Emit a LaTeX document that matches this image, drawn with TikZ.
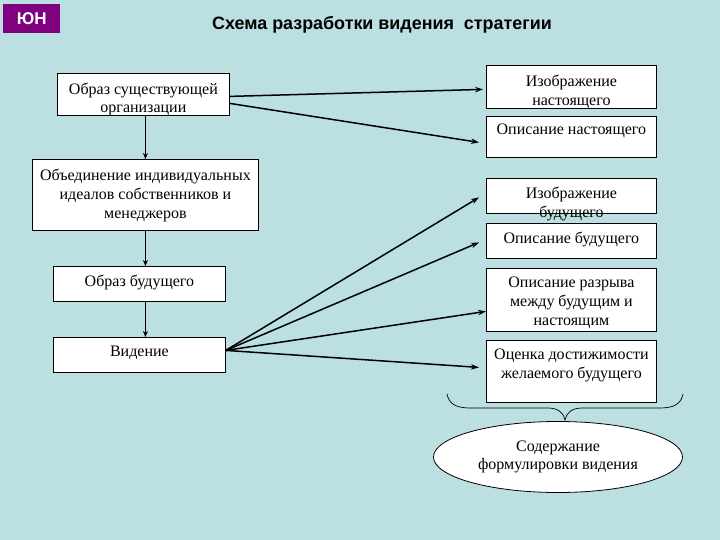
\documentclass[tikz,border=0pt]{standalone}
\usepackage{fontspec}
\setmainfont{Liberation Serif}
\newfontfamily\sansf{Liberation Sans}
\usetikzlibrary{shapes.geometric,arrows.meta,calc}
\definecolor{bgc}{RGB}{188,223,226}
\definecolor{purp}{RGB}{128,0,128}
\begin{document}
\begin{tikzpicture}[x=1pt,y=-1pt,
  box/.style={draw, fill=white, line width=0.8pt, inner sep=0pt, anchor=north west},
  txt/.style={font=\fontsize{16}{18.8}\selectfont, align=center, inner sep=0pt, anchor=north},
  arr/.style={-{Stealth[length=8pt,width=5.5pt]}, line width=1.5pt},
  varr/.style={-{Stealth[length=6pt,width=5pt]}, line width=0.8pt}]
\fill[bgc] (0,0) rectangle (720,540);
\useasboundingbox (0,0) rectangle (720,540);

% logo and title
\node[fill=purp, minimum width=57pt, minimum height=29pt, inner sep=0pt, anchor=north west,
  text=white, font=\sansf\bfseries\fontsize{17}{19}\selectfont] (logo) at (3,4) {ЮН};
\node[font=\sansf\bfseries\fontsize{17.9}{20}\selectfont, inner sep=0pt] (title) at (382,25)
  {Схема разработки видения \ стратегии};

% left boxes
\node[box, minimum width=172pt, minimum height=42pt] (b1) at (57,73) {};
\node[box, minimum width=226pt, minimum height=71pt] (b2) at (32,159) {};
\node[box, minimum width=172pt, minimum height=35pt] (b3) at (53,266) {};
\node[box, minimum width=172pt, minimum height=35pt] (b4) at (53,337) {};

% right boxes
\node[box, minimum width=170pt, minimum height=43pt] (ra) at (486,65) {};
\node[box, minimum width=170pt, minimum height=41pt] (rb) at (486,116) {};
\node[box, minimum width=170pt, minimum height=35pt] (rc) at (486,178) {};
\node[box, minimum width=170pt, minimum height=35pt] (rd) at (486,223) {};
\node[box, minimum width=170pt, minimum height=63pt] (re) at (486,268) {};
\node[box, minimum width=170pt, minimum height=62pt] (rf) at (486,340) {};

% texts
\node[txt] (t1) at ([yshift=-9.5pt]b1.north) {Образ существующей\\организации};
\node[txt] (t2) at ([yshift=-10pt]b2.north) {Объединение индивидуальных\\идеалов собственников и\\менеджеров};
\node[txt] (t3) at ([yshift=-9pt]b3.north) {Образ будущего};
\node[txt] (t4) at ([yshift=-8.5pt]b4.north) {Видение};
\node[txt] (ta) at ([yshift=-10pt]ra.north) {Изображение\\настоящего};
\node[txt] (tb) at ([yshift=-7.5pt]rb.north) {Описание настоящего};
\node[txt] (tc) at ([yshift=-9pt]rc.north) {Изображение\\будущего};
\node[txt] (td) at ([yshift=-8.5pt]rd.north) {Описание будущего};
\node[txt] (te) at ([yshift=-9pt]re.north) {Описание разрыва\\между будущим и\\настоящим};
\node[txt] (tf) at ([yshift=-8.5pt]rf.north) {Оценка достижимости\\желаемого будущего};

% vertical arrows
\draw[varr] (b1.south -| b2.north) -- (b2.north);
\draw[varr] (b2.south) -- (b2.south |- b3.north);
\draw[varr] (b3.south -| b2.south) -- (b4.north -| b2.south);

% arrows from b1
\draw[arr] ([yshift=-2pt]b1.east) -- ([xshift=-3pt,yshift=-2.5pt]ra.west);
\draw[arr] ([yshift=-9pt]b1.east) -- ([xshift=-7pt,yshift=-5.5pt]rb.west);

% fan from b4
\coordinate (v) at ([yshift=4.5pt]b4.east);
\draw[arr] (v) -- ([xshift=-7pt,yshift=-1.5pt]rc.west);
\draw[arr] (v) -- ([xshift=-7pt,yshift=-1.5pt]rd.west);
\draw[arr] (v) -- ([xshift=0pt,yshift=-11.5pt]re.west);
\draw[arr] (v) -- ([xshift=-7pt,yshift=4pt]rf.west);

% brace
\draw[line width=0.7pt] (447,394) .. controls (449,404) and (456,408) .. (470,408) -- (548,408)
  .. controls (558,408) and (564,413) .. (565,420)
  .. controls (566,413) and (572,408) .. (582,408) -- (660,408)
  .. controls (674,408) and (681,404) .. (683,394);

% ellipse
\node[ellipse, draw, fill=white, line width=0.8pt, minimum width=249pt, minimum height=71pt,
  inner sep=0pt, font=\fontsize{16}{18.8}\selectfont, align=center] (el) at (558,457)
  {Содержание\\формулировки видения};
\end{tikzpicture}
\end{document}
